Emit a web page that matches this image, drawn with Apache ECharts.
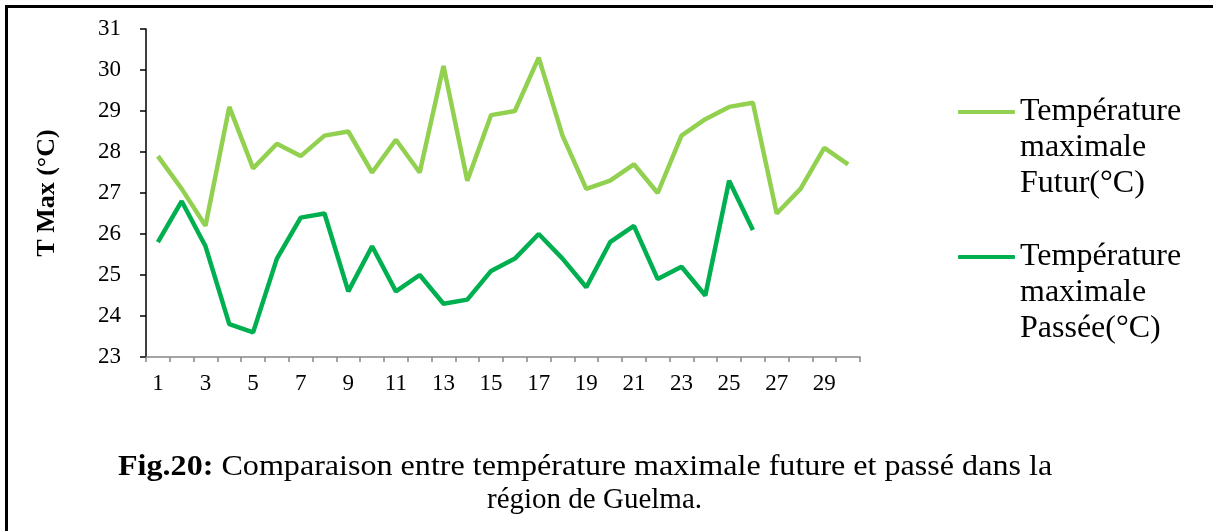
<!DOCTYPE html>
<html>
<head>
<meta charset="utf-8">
<script src="https://cdn.jsdelivr.net/npm/echarts@6/dist/echarts.min.js"></script>
<style>
  html, body { margin: 0; padding: 0; background: #fff; }
  #wrap { position: relative; width: 1213px; height: 531px; }
  #chart { width: 1213px; height: 531px; }
  #frame {
    position: absolute; left: 5px; top: 5px; right: 0; bottom: 0;
    border-top: 3px solid #000; border-left: 3px solid #000;
    pointer-events: none;
  }
</style>
</head>
<body>
<div id="wrap">
  <div id="chart"></div>
  <div id="frame"></div>
</div>
<script>
// jours 1..30
const days = [];
for (let i = 1; i <= 30; i++) days.push(String(i));

const nameFutur = 'Température maximale Futur(°C)';
const namePasse = 'Température maximale Passée(°C)';

const tmaxFutur = [27.9, 27.1, 26.2, 29.1, 27.6, 28.2, 27.9, 28.4, 28.5, 27.5,
                   28.3, 27.5, 30.1, 27.3, 28.9, 29.0, 30.3, 28.4, 27.1, 27.3,
                   27.7, 27.0, 28.4, 28.8, 29.1, 29.2, 26.5, 27.1, 28.1, 27.7];
const tmaxPasse = [25.8, 26.8, 25.7, 23.8, 23.6, 25.4, 26.4, 26.5, 24.6, 25.7,
                   24.6, 25.0, 24.3, 24.4, 25.1, 25.4, 26.0, 25.4, 24.7, 25.8,
                   26.2, 24.9, 25.2, 24.5, 27.3, 26.1, null, null, null, null];

const font = "'Liberation Serif', 'Times New Roman', serif";

const legendText = {
    fontFamily: font,
    fontSize: 32,
    lineHeight: 36,
    color: '#000'
};
// two blank lines on top so the icon sits next to the first text line
const legendFmt = function (n) { return '\n\n' + n.split(' ').join('\n'); };

const chart = echarts.init(document.getElementById('chart'));
chart.setOption({
    animation: false,
    backgroundColor: '#fff',
    grid: { left: 146, right: 353, top: 29, bottom: 174 },
    legend: [
        {
            data: [nameFutur], left: 958, top: 22, padding: 0,
            icon: 'roundRect', itemWidth: 57, itemHeight: 4,
            textStyle: legendText, formatter: legendFmt
        },
        {
            data: [namePasse], left: 958, top: 167, padding: 0,
            icon: 'roundRect', itemWidth: 57, itemHeight: 4,
            textStyle: legendText, formatter: legendFmt
        }
    ],
    xAxis: {
        type: 'category',
        data: days,
        boundaryGap: true,
        axisLine: { lineStyle: { color: '#868686', width: 1.5 } },
        axisTick: { show: true, length: 5, interval: 0, lineStyle: { color: '#868686', width: 1.5 } },
        axisLabel: { interval: 1, margin: 15, color: '#000', fontFamily: font, fontSize: 23 }
    },
    yAxis: {
        type: 'value',
        min: 23, max: 31, interval: 1,
        name: 'T Max (°C)',
        nameLocation: 'middle',
        nameGap: 86,
        nameTextStyle: { fontFamily: font, fontSize: 26, fontWeight: 'bold', color: '#000' },
        splitLine: { show: false },
        axisLine: { show: true, lineStyle: { color: '#000', width: 1.5 } },
        axisTick: { show: true, length: 6, lineStyle: { color: '#000', width: 1.5 } },
        axisLabel: { margin: 25, color: '#000', fontFamily: font, fontSize: 23 }
    },
    series: [
        {
            name: nameFutur, type: 'line', data: tmaxFutur,
            showSymbol: false, symbol: 'none',
            lineStyle: { color: '#92D050', width: 4.5 },
            itemStyle: { color: '#92D050' }
        },
        {
            name: namePasse, type: 'line', data: tmaxPasse,
            showSymbol: false, symbol: 'none',
            lineStyle: { color: '#00B050', width: 4.5 },
            itemStyle: { color: '#00B050' }
        }
    ],
    graphic: [
        {
            type: 'text', x: 118, y: 467, scaleX: 1.07,
            style: {
                text: '{b|Fig.20:} Comparaison entre température maximale future et passé dans la',
                fontFamily: font, fontSize: 30, fill: '#000', verticalAlign: 'middle',
                rich: { b: { fontFamily: font, fontSize: 30, fontWeight: 'bold' } }
            }
        },
        {
            type: 'text', x: 487, y: 500,
            style: { text: 'région de Guelma.', fontFamily: font, fontSize: 29, fill: '#000', verticalAlign: 'middle' }
        }
    ]
});
</script>
</body>
</html>
